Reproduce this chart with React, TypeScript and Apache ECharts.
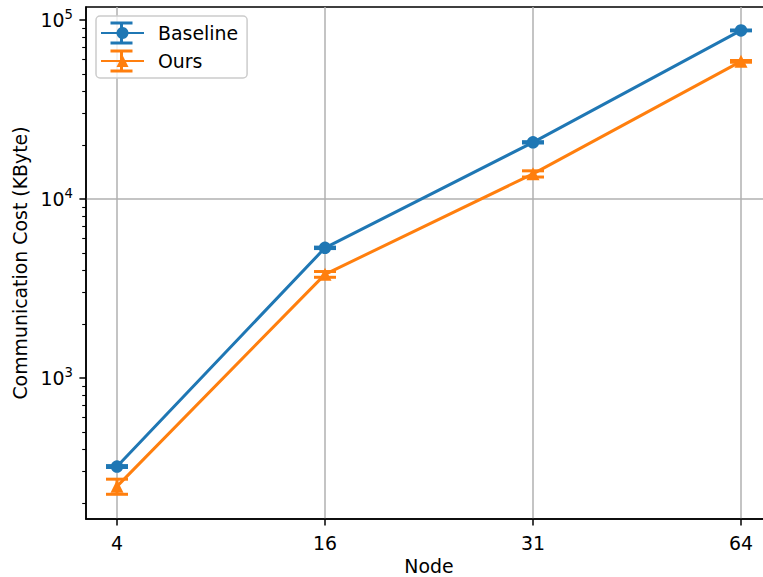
import React, { useEffect, useRef } from 'react';
import * as echarts from 'echarts';

const categories = ['4', '16', '31', '64'];
const baselineValues = [320, 5330, 20700, 87300];
const baselineErrors = [4, 50, 180, 500];
const oursValues = [248, 3790, 13800, 58650];
const oursErrors = [24, 140, 550, 650];
const majorTicks = [1000, 10000, 100000];
const minorTicks = [
  200, 300, 400, 500, 600, 700, 800, 900,
  2000, 3000, 4000, 5000, 6000, 7000, 8000, 9000,
  20000, 30000, 40000, 50000, 60000, 70000, 80000, 90000,
];
const yMin = 163;
const yMax = 118000;

const BLUE = '#1f77b4';
const ORANGE = '#ff7f0e';
const FONT = 'DejaVu Sans';
const FS = 18.9;
const LW = 3;
const CAP = 11;

function errorSeries(name: string, values: number[], errors: number[], color: string) {
  return {
    name,
    type: 'custom',
    xAxisIndex: 1,
    yAxisIndex: 1,
    z: 5,
    clip: false,
    silent: true,
    data: values.map((v, i) => [i, v, errors[i]]),
    encode: { x: 0, y: 1 },
    renderItem: (params: any, api: any) => {
      const x = api.value(0);
      const v = api.value(1);
      const e = api.value(2);
      const top = api.coord([x, v + e]);
      const bot = api.coord([x, v - e]);
      const style = { stroke: color, lineWidth: LW };
      return {
        type: 'group',
        children: [
          { type: 'line', shape: { x1: top[0], y1: top[1], x2: bot[0], y2: bot[1] }, style },
          { type: 'line', shape: { x1: top[0] - CAP, y1: top[1], x2: top[0] + CAP, y2: top[1] }, style },
          { type: 'line', shape: { x1: bot[0] - CAP, y1: bot[1], x2: bot[0] + CAP, y2: bot[1] }, style },
        ],
      };
    },
  };
}

function legendBar(cx: number, cy: number, color: string) {
  const style = { stroke: color, lineWidth: LW };
  return [
    { type: 'line', z: 100, shape: { x1: cx, y1: cy - 10, x2: cx, y2: cy + 10 }, style },
    { type: 'line', z: 100, shape: { x1: cx - CAP, y1: cy - 10, x2: cx + CAP, y2: cy - 10 }, style },
    { type: 'line', z: 100, shape: { x1: cx - CAP, y1: cy + 10, x2: cx + CAP, y2: cy + 10 }, style },
  ];
}

export default function App() {
  const ref = useRef<HTMLDivElement>(null);
  useEffect(() => {
    if (!ref.current) return;
    const chart = echarts.init(ref.current, undefined, { renderer: 'svg' });
    const axisText = { color: '#000', fontFamily: FONT, fontSize: FS };
    const option: any = {
      animation: false,
      backgroundColor: '#fff',
      textStyle: { fontFamily: FONT },
      grid: [
        {
          left: 86, right: -9, top: 7, bottom: 58,
          show: true, borderColor: '#000', borderWidth: 1.5, backgroundColor: 'transparent',
          containLabel: false, outerBoundsMode: 'none',
        },
        {
          left: 117, right: 22, top: 7, bottom: 58,
          show: false, containLabel: false, outerBoundsMode: 'none',
        },
      ],
      xAxis: [
        {
          gridIndex: 0, type: 'value', min: 0, max: 1,
          axisLine: { show: true, lineStyle: { color: '#000', width: 1.5 } },
          axisTick: { show: false }, axisLabel: { show: false }, splitLine: { show: false },
        },
        {
          gridIndex: 1, type: 'value', min: 0, max: 3, interval: 1,
          axisLine: { show: false },
          axisTick: { show: true, length: 6.6, lineStyle: { color: '#000', width: 1.5 } },
          axisLabel: { ...axisText, margin: 14, formatter: (v: number) => categories[Math.round(v)] ?? '' },
          splitLine: { show: true, lineStyle: { color: '#b0b0b0', width: 1.5 } },
          name: 'Node', nameLocation: 'middle', nameGap: 37,
          nameTextStyle: { ...axisText },
        },
      ],
      yAxis: [
        {
          gridIndex: 0, type: 'log', logBase: 10, min: yMin, max: yMax,
          axisLine: { show: true, lineStyle: { color: '#000', width: 1.5 } },
          axisTick: { show: true, length: 6.6, customValues: majorTicks, lineStyle: { color: '#000', width: 1.5 } },
          axisLabel: {
            color: '#000', margin: 13, customValues: majorTicks,
            formatter: (v: number) => `{b|10}{s|${Math.round(Math.log10(v))}}`,
            rich: {
              b: { fontFamily: FONT, fontSize: FS, color: '#000', lineHeight: 24 },
              s: { fontFamily: FONT, fontSize: 13.2, color: '#000', verticalAlign: 'top', lineHeight: 14 },
            },
          },
          splitLine: { show: true, showMinLine: false, showMaxLine: false, lineStyle: { color: '#b0b0b0', width: 1.5 } },
          name: 'Communication Cost (KByte)', nameLocation: 'middle', nameGap: 56,
          nameTextStyle: { ...axisText },
        },
        {
          gridIndex: 1, type: 'log', logBase: 10, min: yMin, max: yMax, show: false,
        },
        {
          gridIndex: 0, type: 'log', logBase: 10, min: yMin, max: yMax, position: 'left',
          axisLine: { show: false }, axisLabel: { show: false }, splitLine: { show: false },
          axisTick: { show: true, length: 3.8, customValues: minorTicks, lineStyle: { color: '#000', width: 1.1 } },
        },
      ],
      legend: {
        orient: 'vertical', left: 96, top: 16,
        padding: [6, 9, 6, 4], itemWidth: 43, itemHeight: 15, itemGap: 6,
        backgroundColor: 'rgba(255,255,255,0.8)', borderColor: '#cccccc', borderWidth: 1.5, borderRadius: 4,
        textStyle: { color: '#000', fontFamily: FONT, fontSize: FS, lineHeight: 22, padding: [0, 0, 0, 9] },
        data: [{ name: 'Baseline' }, { name: 'Ours' }],
      },
      graphic: [...legendBar(121.5, 33, BLUE), ...legendBar(121.5, 61, ORANGE)],
      series: [
        {
          name: 'Baseline', type: 'line', xAxisIndex: 1, yAxisIndex: 1, clip: false, z: 3,
          data: baselineValues.map((v, i) => [i, v]),
          symbol: 'circle', symbolSize: 12.5,
          lineStyle: { color: BLUE, width: LW }, itemStyle: { color: BLUE },
        },
        errorSeries('Baseline err', baselineValues, baselineErrors, BLUE),
        {
          name: 'Ours', type: 'line', xAxisIndex: 1, yAxisIndex: 1, clip: false, z: 3,
          data: oursValues.map((v, i) => [i, v]),
          symbol: 'triangle', symbolSize: 13,
          lineStyle: { color: ORANGE, width: LW }, itemStyle: { color: ORANGE },
        },
        errorSeries('Ours err', oursValues, oursErrors, ORANGE),
      ],
    };
    chart.setOption(option);
    return () => chart.dispose();
  }, []);
  return <div ref={ref} style={{ position: 'absolute', left: 0, top: 0, width: 763, height: 577 }} />;
}
